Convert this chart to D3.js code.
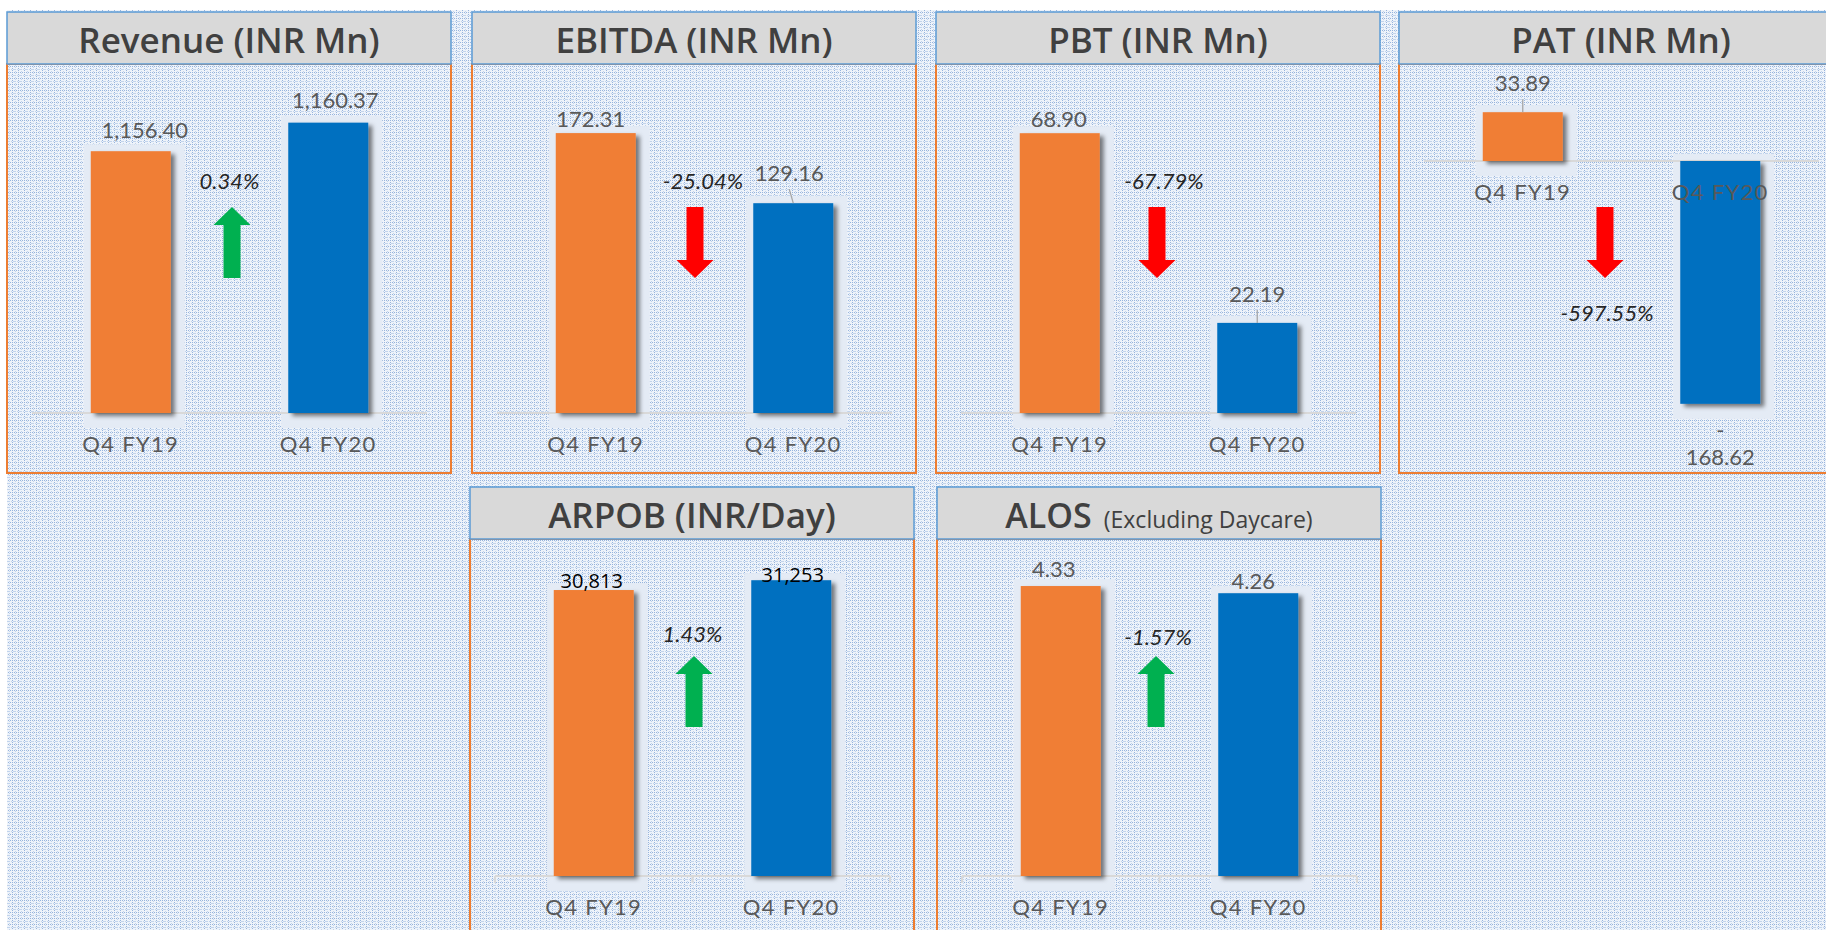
<!DOCTYPE html>
<html>
<head>
<meta charset="utf-8">
<script src="https://cdn.jsdelivr.net/npm/d3@7"></script>
<style>
body { margin: 0; background: #fff; overflow: hidden; }
svg { display: block; }
</style>
</head>
<body>
<div id="chart"></div>
<script>
// ---- data ----
var categories = ["Q4 FY19", "Q4 FY20"];
var titles = ["Revenue (INR Mn)", "EBITDA (INR Mn)", "PBT (INR Mn)", "PAT (INR Mn)", "ARPOB (INR/Day)", "ALOS"];
var subTitles = ["", "", "", "", "", "(Excluding Daycare)"];
var revenue = [1156.40, 1160.37];
var ebitda = [172.31, 129.16];
var pbt = [68.90, 22.19];
var pat = [33.89, -168.62];
var arpob = [30813, 31253];
var alos = [4.33, 4.26];
var changes = ["0.34%", "-25.04%", "-67.79%", "-597.55%", "1.43%", "-1.57%"];
var arrowDirs = ["up", "down", "down", "down", "up", "up"];
var formats = [",.2f", ",.2f", ",.2f", ",.2f", ",.0f", ",.2f"];
var yDomains = [[1120, 1166.3], [0, 205], [0, 82], [-200, 50], [18000, 32920], [1.5, 4.75]];

var series = [revenue, ebitda, pbt, pat, arpob, alos];

// ---- layout ----
var width = 1826, height = 930;
var panelW = 444, headH = 52;
var panelX = [7, 472, 936, 1399, 470, 937];
var panelY = [12, 12, 12, 12, 487, 487];
var panelBottom = [473, 473, 473, 473, 960, 960];
var plotRange = [[413, 80], [413, 80], [413, 80], [449, 89], [876, 543], [876, 543]];
// [dx, gap above bar top] for each value label
var labelNudge = [[[14, 13], [7, 15]], [[-5, 6], [-4, 22]], [[-1, 6], [0, 21]],
                  [[0, 21], [0, 34]], [[-2, 2], [1.5, -2]], [[-7, 9], [-5, 4]]];
var leaders = [[0, 0], [0, 1], [0, 1], [1, 0], [0, 0], [0, 0]];
// [text dx, text baseline, arrow dx, arrow top] relative to panel
var notePos = [[0, 177, 2.5, 195], [8.5, 177, 0.5, 195], [5.5, 177, -1.5, 195],
               [-14.5, 309, -16.5, 195], [0, 155, 1.5, 169], [-1.5, 158, -3.5, 169]];

var orange = "#F07E36", blue = "#0070C0";
var labelFont = "Lato, 'Open Sans', sans-serif";

var svg = d3.select("#chart").append("svg")
    .attr("width", width)
    .attr("height", height);

var defs = svg.append("defs");
var grid = defs.append("pattern")
    .attr("id", "grid")
    .attr("patternUnits", "userSpaceOnUse")
    .attr("width", 6).attr("height", 6);
grid.append("rect").attr("width", 6).attr("height", 6).attr("fill", "#eef3fa");
[0, 2, 4].forEach(function(i) {
    grid.append("rect").attr("x", i).attr("y", 0).attr("width", 1).attr("height", 1).attr("fill", "#97b4dc");
    grid.append("rect").attr("x", 0).attr("y", i).attr("width", 1).attr("height", 1).attr("fill", "#97b4dc");
});
[[3, 3], [2, 3], [3, 1], [1, 3], [5, 3], [3, 5]].forEach(function(p) {
    grid.append("rect").attr("x", p[0]).attr("y", p[1]).attr("width", 1).attr("height", 1).attr("fill", "#c2d4ec");
});

var shadow = defs.append("filter").attr("id", "shadow")
    .attr("x", "-20%").attr("y", "-20%").attr("width", "150%").attr("height", "150%");
shadow.append("feDropShadow")
    .attr("dx", 4).attr("dy", 3).attr("stdDeviation", 2.2)
    .attr("flood-color", "#000").attr("flood-opacity", 0.5);

svg.append("rect")
    .attr("x", 7).attr("y", 10)
    .attr("width", width - 7).attr("height", height - 10)
    .attr("fill", "url(#grid)");

series.forEach(function(values, i) {
    var px = panelX[i], py = panelY[i];
    var g = svg.append("g").attr("class", "panel");

    // frame
    g.append("rect")
        .attr("x", px).attr("y", py + headH)
        .attr("width", panelW).attr("height", panelBottom[i] - py - headH)
        .attr("fill", "none").attr("stroke", "#ED7D31").attr("stroke-width", 2);
    g.append("rect")
        .attr("x", px).attr("y", py)
        .attr("width", panelW).attr("height", headH)
        .attr("fill", "#D9D9D9").attr("stroke", "#5B9BD5").attr("stroke-width", 1.5);

    var title = g.append("text")
        .attr("x", px + panelW / 2)
        .attr("y", py + 41)
        .attr("text-anchor", "middle")
        .attr("font-family", "'Open Sans', sans-serif")
        .attr("font-weight", 600)
        .attr("font-size", i == 5 ? 34 : 35)
        .attr("fill", "#404040")
        .text(titles[i]);
    if (subTitles[i]) {
        title.append("tspan")
            .attr("font-weight", 400)
            .attr("font-size", 23)
            .attr("dx", 12)
            .text(subTitles[i]);
    }

    var x = d3.scaleBand()
        .domain(categories)
        .range([px + 25, px + 420])
        .paddingInner(0.595)
        .paddingOuter(0.2975);
    var y = d3.scaleLinear()
        .domain(yDomains[i])
        .range(plotRange[i]);
    var base = y(Math.max(yDomains[i][0], Math.min(0, yDomains[i][1])));
    var fmt = d3.format(formats[i]);

    // pale glow behind each bar
    g.selectAll(".glow")
        .data(values).enter()
        .append("rect")
        .attr("x", function(d, j) { return x(categories[j]) - 7; })
        .attr("y", function(d) { return Math.min(y(d), base) - 7; })
        .attr("width", x.bandwidth() + 21)
        .attr("height", function(d) { return Math.abs(y(d) - base) + 22; })
        .attr("fill", "#E4EBF5");

    // baseline
    g.append("line")
        .attr("x1", x.range()[0]).attr("x2", x.range()[1])
        .attr("y1", base).attr("y2", base)
        .attr("stroke", "#D9D9D9").attr("stroke-width", 2);
    if (py > 100) {
        g.selectAll(".tick-mark")
            .data([x.range()[0], (x.range()[0] + x.range()[1]) / 2, x.range()[1]])
            .enter().append("line")
            .attr("x1", function(d) { return d; }).attr("x2", function(d) { return d; })
            .attr("y1", base).attr("y2", base + 7)
            .attr("stroke", "#D9D9D9").attr("stroke-width", 2);
    }

    g.selectAll(".bar")
        .data(values).enter()
        .append("rect")
        .attr("x", function(d, j) { return x(categories[j]); })
        .attr("y", function(d) { return Math.min(y(d), base); })
        .attr("width", x.bandwidth())
        .attr("height", function(d) { return Math.abs(y(d) - base); })
        .attr("fill", function(d, j) { return j == 0 ? orange : blue; })
        .attr("filter", "url(#shadow)");

    // value labels
    values.forEach(function(v, j) {
        var cx = x(categories[j]) + x.bandwidth() / 2;
        var lx = cx + labelNudge[i][j][0];
        var gap = labelNudge[i][j][1];
        var t = g.append("text")
            .attr("text-anchor", "middle")
            .attr("font-family", i == 4 ? "'Open Sans', sans-serif" : labelFont)
            .attr("font-size", i == 4 ? 20 : 22)
            .attr("fill", i == 4 ? "#000" : "#595959");
        if (v < 0) {
            var ly = y(v) + gap;
            t.append("tspan").attr("x", lx).attr("y", ly).text("-");
            t.append("tspan").attr("x", lx).attr("y", ly + 27).text(fmt(-v));
        } else {
            var ly2 = y(v) - gap;
            t.attr("x", lx).attr("y", ly2).text(fmt(v));
            if (leaders[i][j]) {
                g.append("line")
                    .attr("x1", lx).attr("y1", ly2 + 8)
                    .attr("x2", cx).attr("y2", y(v))
                    .attr("stroke", "#A6A6A6").attr("stroke-width", 1.3);
            }
        }
    });

    // category labels
    var axis = g.append("g")
        .attr("transform", "translate(0," + base + ")")
        .call(d3.axisBottom(x).tickSize(0));
    axis.select(".domain").remove();
    axis.selectAll("text")
        .attr("y", 39)
        .attr("dy", 0)
        .attr("font-family", labelFont)
        .attr("font-size", 22)
        .attr("letter-spacing", 1.3)
        .attr("fill", "#595959");

    // change annotation + arrow
    var mid = (x.range()[0] + x.range()[1]) / 2;
    var np = notePos[i];
    g.append("text")
        .attr("x", mid + np[0])
        .attr("y", py + np[1])
        .attr("text-anchor", "middle")
        .attr("font-family", labelFont)
        .attr("font-style", "italic")
        .attr("font-size", 22)
        .attr("fill", "#262626")
        .text(changes[i]);

    var ax = mid + np[2], at = py + np[3];
    var s = 8.5, hw = 18.5, len = 71, head = 18, pts;
    if (arrowDirs[i] == "down") {
        pts = [[ax - s, at], [ax + s, at], [ax + s, at + len - head], [ax + hw, at + len - head],
               [ax, at + len], [ax - hw, at + len - head], [ax - s, at + len - head]];
    } else {
        pts = [[ax, at], [ax + hw, at + head], [ax + s, at + head], [ax + s, at + len],
               [ax - s, at + len], [ax - s, at + head], [ax - hw, at + head]];
    }
    g.append("path")
        .attr("d", d3.line()(pts) + "Z")
        .attr("fill", arrowDirs[i] == "down" ? "#FF0000" : "#00B050");
});
</script>
</body>
</html>
